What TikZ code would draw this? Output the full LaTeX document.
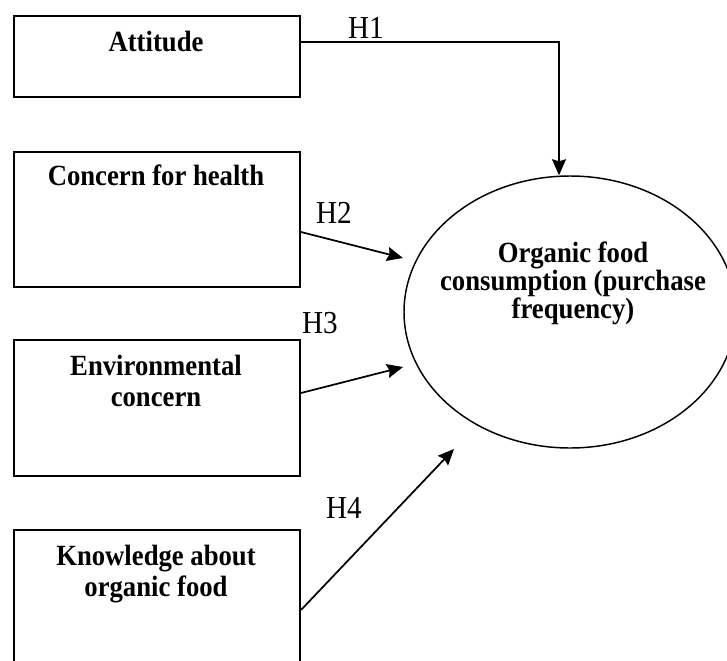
\documentclass[tikz,border=0pt]{standalone}
\usepackage{fontspec}
\setmainfont{Liberation Serif}[FakeStretch=0.91]
\usetikzlibrary{shapes.geometric,arrows.meta}
\begin{document}
\begin{tikzpicture}[x=0.75pt,y=-0.75pt,
  box/.style={draw,line width=1.5pt,rectangle,inner sep=0pt,anchor=north west,minimum width=214.5pt},
  boxtext/.style={font=\fontsize{22pt}{23.25pt}\selectfont\bfseries,anchor=base,inner sep=0pt},
  orgtext/.style={font=\fontsize{22pt}{19.5pt}\selectfont\bfseries,anchor=base,inner sep=0pt},
  hlabel/.style={font=\fontsize{24pt}{26pt}\selectfont,anchor=base,inner sep=0pt},
  arr/.style={line width=1.3pt,-{Stealth[length=12pt,width=10.5pt,inset=1.5pt]}}]
\useasboundingbox (0,0) rectangle (727,660);
\clip (0,0) rectangle (727,660);
% boxes
\node[box,minimum height=60.75pt] (att) at (13,15) {};
\node[box,minimum height=101.25pt] (con) at (13,151) {};
\node[box,minimum height=102pt] (env) at (13,339) {};
\node[box,minimum height=110pt] (kno) at (13,529) {};
% box texts
\node[boxtext] (attl) at (156,52) {Attitude};
\node[boxtext] (conl) at (156,185) {Concern for health};
\node[boxtext] (envl) at (156,375) {\begin{tabular}[t]{@{}c@{}}Environmental\\concern\end{tabular}};
\node[boxtext] (knol) at (156,565) {\begin{tabular}[t]{@{}c@{}}Knowledge about\\organic food\end{tabular}};
% ellipse
\node[ellipse,draw,line width=1.1pt,inner sep=0pt,minimum width=249pt,minimum height=204pt] (org) at (570,312) {};
\node[orgtext] (orgl) at (573,262) {\begin{tabular}[t]{@{}c@{}}Organic food\\consumption (purchase\\frequency)\end{tabular}};
% connectors
\coordinate (h1bend) at (559,42);
\draw[arr] (att.east |- h1bend) -- (h1bend) -- (h1bend |- org.north);
\coordinate (s2) at (299,232);
\coordinate (t2) at (403,258);
\draw[arr] (con.east |- s2) -- (t2);
\coordinate (s3) at (299,393);
\coordinate (t3) at (403,367);
\draw[arr] (env.east |- s3) -- (t3);
\coordinate (s4) at (299,610);
\coordinate (t4) at (454,449);
\draw[arr] (kno.east |- s4) -- (t4);
% labels
\node[hlabel] (h1) at (366,39) {H1};
\node[hlabel] (h2) at (334,223) {H2};
\node[hlabel] (h3) at (320,333) {H3};
\node[hlabel] (h4) at (344,518) {H4};
\end{tikzpicture}
\end{document}
